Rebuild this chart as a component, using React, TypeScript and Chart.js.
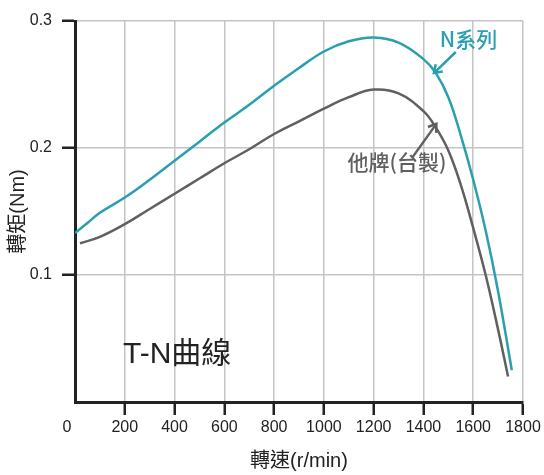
import React, { useEffect, useRef } from "react";
import { Chart, registerables } from "chart.js";

Chart.register(...registerables);

// N系列 (teal) torque curve
const nSpeed = [0, 50, 100, 200, 300, 400, 500, 600, 700, 800, 900, 1000, 1100, 1200, 1300, 1400, 1450, 1500, 1550, 1600, 1650, 1700, 1755];
const nTorque = [0.133, 0.141, 0.149, 0.161, 0.175, 0.19, 0.205, 0.22, 0.234, 0.249, 0.263, 0.276, 0.284, 0.287, 0.283, 0.27, 0.259, 0.24, 0.21, 0.175, 0.135, 0.087, 0.025];

// 他牌(台製) (gray) torque curve
const oSpeed = [20, 100, 200, 300, 400, 500, 600, 700, 800, 900, 1000, 1100, 1200, 1300, 1400, 1450, 1500, 1550, 1600, 1650, 1700, 1740];
const oTorque = [0.125, 0.13, 0.14, 0.152, 0.164, 0.176, 0.188, 0.199, 0.211, 0.221, 0.231, 0.24, 0.246, 0.243, 0.229, 0.216, 0.198, 0.171, 0.137, 0.1, 0.057, 0.02];

const xTicks = [0, 200, 400, 600, 800, 1000, 1200, 1400, 1600, 1800];
const yTicks = [0, 0.1, 0.2, 0.3];

const TEAL = "#2a9fb0";
const GRAY = "#606060";
const INK = "#222222";
const FONT = "'Liberation Sans', Arial, 'Noto Sans CJK TC', sans-serif";
const NOTE_FONT = "'Noto Sans CJK TC', 'Liberation Sans', sans-serif";

const labelsPlugin = {
  id: "labels",
  afterDraw(chart: any) {
    const { ctx, scales } = chart;
    const xs = scales.x;
    const ys = scales.y;
    const px = (v: number) => xs.getPixelForValue(v);
    const py = (v: number) => ys.getPixelForValue(v);
    ctx.save();
    // corner "0"
    ctx.fillStyle = INK;
    ctx.font = `16px ${FONT}`;
    ctx.textAlign = "center";
    ctx.textBaseline = "middle";
    ctx.fillText("0", px(0) - 8, 428);

    const arrow = (x1: number, y1: number, x2: number, y2: number, color: string) => {
      const a = px(x1), b = py(y1), c = px(x2), d = py(y2);
      ctx.strokeStyle = color;
      ctx.lineWidth = 2.5;
      ctx.lineCap = "butt";
      ctx.beginPath();
      ctx.moveTo(a, b);
      ctx.lineTo(c, d);
      const ang = Math.atan2(d - b, c - a);
      const L = 9;
      ctx.moveTo(c - L * Math.cos(ang - 0.6), d - L * Math.sin(ang - 0.6));
      ctx.lineTo(c, d);
      ctx.lineTo(c - L * Math.cos(ang + 0.6), d - L * Math.sin(ang + 0.6));
      ctx.stroke();
    };

    ctx.textAlign = "left";
    ctx.textBaseline = "middle";
    ctx.fillStyle = TEAL;
    ctx.font = `500 21px ${NOTE_FONT}`;
    ctx.fillText("N系列", px(1466), py(0.286));
    arrow(1530, 0.2756, 1442, 0.259, TEAL);

    ctx.fillStyle = GRAY;
    ctx.font = `500 21px ${NOTE_FONT}`;
    ctx.fillText("他牌(台製)", px(1095), py(0.189));
    arrow(1357, 0.193, 1452, 0.219, GRAY);

    ctx.fillStyle = INK;
    ctx.font = `30px ${FONT}`;
    ctx.fillText("T-N曲線", px(193), py(0.037));
    ctx.restore();
  },
};

export default function App() {
  const ref = useRef<HTMLCanvasElement>(null);
  useEffect(() => {
    if (!ref.current) return;
    const chart = new Chart(ref.current, {
      type: "line",
      data: {
        datasets: [
          {
            label: "N系列",
            data: nSpeed.map((x, i) => ({ x, y: nTorque[i] })),
            borderColor: TEAL,
            borderWidth: 2.5,
            pointRadius: 0,
            fill: false,
            tension: 0.4,
          },
          {
            label: "他牌(台製)",
            data: oSpeed.map((x, i) => ({ x, y: oTorque[i] })),
            borderColor: GRAY,
            borderWidth: 2.5,
            pointRadius: 0,
            fill: false,
            tension: 0.4,
          },
        ],
      },
      options: {
        responsive: false,
        animation: false,
        layout: { padding: { top: 21, right: 21, left: 0, bottom: 0 } },
        plugins: { legend: { display: false }, tooltip: { enabled: false } },
        scales: {
          x: {
            type: "linear",
            min: 0,
            max: 1800,
            afterFit: (s: any) => { s.height = 73; },
            afterBuildTicks: (s: any) => { s.ticks = xTicks.map((v) => ({ value: v })); },
            ticks: {
              color: INK,
              font: { family: FONT, size: 16 },
              padding: 3,
              callback: (v: any) => (v === 0 ? "" : String(v)),
              maxRotation: 0,
            },
            grid: {
              color: (c: any) => (c.tick && c.tick.value === 0 ? "rgba(0,0,0,0)" : "#c4c4c4"),
              lineWidth: 1.5,
              tickLength: 13,
              tickColor: (c: any) => (c.tick && c.tick.value === 0 ? "rgba(0,0,0,0)" : INK),
              tickWidth: 2.5,
            },
            border: { color: INK, width: 3 },
            title: {
              display: true,
              text: "轉速(r/min)",
              color: INK,
              font: { family: FONT, size: 20 },
              padding: { top: 0, bottom: 2 },
            },
          },
          y: {
            type: "linear",
            min: 0,
            max: 0.3,
            afterFit: (s: any) => { s.width = 75; },
            afterBuildTicks: (s: any) => { s.ticks = yTicks.map((v) => ({ value: v })); },
            ticks: {
              color: INK,
              font: { family: FONT, size: 16 },
              padding: 10,
              callback: (v: any) => (v === 0 ? "" : String(Math.round(v * 10) / 10)),
            },
            grid: {
              color: (c: any) => (c.tick && c.tick.value === 0 ? "rgba(0,0,0,0)" : "#c4c4c4"),
              lineWidth: 1.5,
              tickLength: 13,
              tickColor: (c: any) => (c.tick && c.tick.value === 0 ? "rgba(0,0,0,0)" : INK),
              tickWidth: 2.5,
            },
            border: { color: INK, width: 3 },
            title: {
              display: true,
              text: "轉矩(Nm)",
              color: INK,
              font: { family: FONT, size: 20 },
              padding: { top: 6, bottom: 0 },
            },
          },
        },
      } as any,
      plugins: [labelsPlugin],
    });
    return () => chart.destroy();
  }, []);
  return (
    <div style={{ position: "absolute", left: 0, top: 0, width: 544, height: 475, background: "#fff" }}>
      <canvas ref={ref} width={544} height={475} style={{ display: "block" }} />
    </div>
  );
}
